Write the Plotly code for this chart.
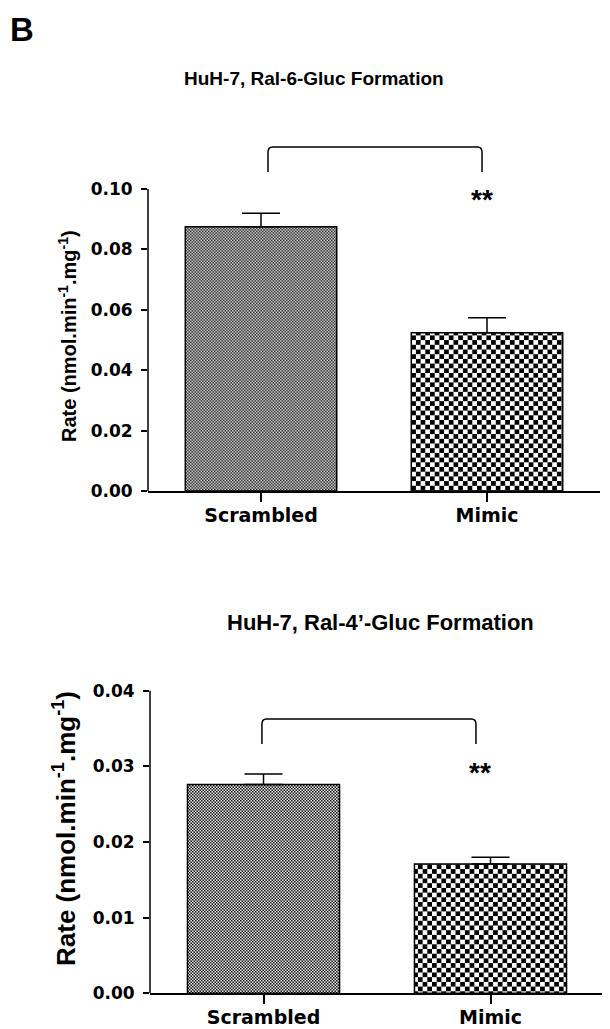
import plotly.graph_objects as go

# ----------------------------- data ---------------------------------------
categories = ["Scrambled", "Mimic"]

# top panel, Ral-6-Gluc formation
rate_6 = [0.0875, 0.0524]
sem_6 = [0.0045, 0.0050]
ticks_6 = [0.00, 0.02, 0.04, 0.06, 0.08, 0.10]

# bottom panel, Ral-4'-Gluc formation
rate_4 = [0.0276, 0.0171]
sem_4 = [0.0014, 0.0009]
ticks_4 = [0.00, 0.01, 0.02, 0.03, 0.04]

xpos = list(range(len(categories)))

TITLE_FONT = "Liberation Sans, Arial, sans-serif"
TICK_FONT = "DejaVu Sans, sans-serif"

# the page body keeps its 8px default margin, so the figure is drawn 8px in
OFF = 8
W, H = 610 - OFF, 1029 - OFF


def px(x):
    return (x - OFF) / W


def py(y):
    return 1 - (y - OFF) / H


# checkerboard fill, custom path if this plotly has it, else a built-in shape
def checker_path(cell):
    s = 2 * cell
    return f"M0,0H{cell}V{cell}H0Z M{cell},{cell}H{s}V{s}H{cell}Z"

try:
    go.bar.marker.Pattern(path="M0,0H1V1H0Z")
    use_path = True
except ValueError:
    use_path = False

if use_path:
    patterns = [dict(path=checker_path(1.5), size=3, fgcolor="black", bgcolor="white", fillmode="replace"),
                dict(path=checker_path(4.7), size=9.4, fgcolor="black", bgcolor="white", fillmode="replace")]
else:
    patterns = [dict(shape="x", size=3, solidity=0.55, fgcolor="black", bgcolor="white", fillmode="replace"),
                dict(shape="x", size=6.7, solidity=0.45, fgcolor="black", bgcolor="white", fillmode="replace")]

fig = go.Figure()

panels = [
    dict(rates=rate_6, sems=sem_6, ticks=ticks_6, xa="x", ya="y"),
    dict(rates=rate_4, sems=sem_4, ticks=ticks_4, xa="x2", ya="y2"),
]

for p in panels:
    for i, cat in enumerate(categories):
        fig.add_trace(go.Bar(
            x=[xpos[i]], y=[p["rates"][i]], width=0.67, name=cat,
            marker=dict(color="white", line=dict(color="black", width=1.5), pattern=patterns[i]),
            error_y=dict(type="data", symmetric=False, array=[p["sems"][i]], arrayminus=[0],
                         color="black", thickness=1.5, width=19),
            xaxis=p["xa"], yaxis=p["ya"], showlegend=False,
        ))

xcommon = dict(range=[-0.5, 1.5], tickvals=xpos, ticktext=categories, ticks="outside",
               ticklen=9, tickwidth=1.5, tickcolor="black", showline=True, linecolor="black",
               linewidth=1.5, showgrid=False, zeroline=False, fixedrange=True, automargin=False,
               ticklabelstandoff=-3,
               tickfont=dict(family=TICK_FONT, size=19, color="black", weight="bold"))
ycommon = dict(ticks="outside", ticklen=6, tickwidth=1.5, tickcolor="black", showline=False,
               showgrid=False, zeroline=False, ticklabelstandoff=5, automargin=False,
               tickfont=dict(family=TICK_FONT, size=17, color="black", weight="bold"))

fig.update_layout(
    width=W, height=H,
    margin=dict(l=0, r=0, t=0, b=0, autoexpand=False),
    paper_bgcolor="white", plot_bgcolor="white",
    barmode="overlay",
    xaxis=dict(domain=[px(148), px(600)], anchor="y", **xcommon),
    yaxis=dict(domain=[py(491), py(128.6)], anchor="x", range=[0, 0.12],
               tickvals=ticks_6, ticktext=[f"{v:.2f}" for v in ticks_6], **ycommon),
    xaxis2=dict(domain=[px(150), px(604)], anchor="y2", **xcommon),
    yaxis2=dict(domain=[py(993.3), py(652.9)], anchor="x2", range=[0, 0.045],
                tickvals=ticks_4, ticktext=[f"{v:.2f}" for v in ticks_4], **ycommon),
)

# y axis lines only as tall as the top tick
for p in panels:
    fig.add_shape(type="line", xref=p["xa"] + " domain", yref=p["ya"], x0=0, x1=0,
                  y0=0, y1=p["ticks"][-1], line=dict(color="black", width=1.5))

# significance brackets
brackets = [
    dict(xa="x", ya="y", x0=0.031, x1=0.978, top=0.1139, foot=0.1056, rx=0.02, ry=0.0019,
         star_x=0.98, star_y=0.0964),
    dict(xa="x2", ya="y2", x0=-0.007, x1=0.936, top=0.03626, foot=0.03296, rx=0.02, ry=0.0007,
         star_x=0.954, star_y=0.02925),
]
for b in brackets:
    path = (f"M{b['x0']},{b['foot']} L{b['x0']},{b['top'] - b['ry']} "
            f"Q{b['x0']},{b['top']} {b['x0'] + b['rx']},{b['top']} "
            f"L{b['x1'] - b['rx']},{b['top']} "
            f"Q{b['x1']},{b['top']} {b['x1']},{b['top'] - b['ry']} L{b['x1']},{b['foot']}")
    fig.add_shape(type="path", xref=b["xa"], yref=b["ya"], path=path,
                  line=dict(color="black", width=1.5))
    fig.add_annotation(xref=b["xa"], yref=b["ya"], x=b["star_x"], y=b["star_y"], text="**",
                       xanchor="center", yanchor="middle", showarrow=False,
                       font=dict(family=TITLE_FONT, size=28, color="black", weight="bold"))

# titles and labels
def label(text, x, y, size, angle=0, xanchor="center"):
    fig.add_annotation(xref="paper", yref="paper", x=px(x), y=py(y), text=text, textangle=angle,
                       xanchor=xanchor, yanchor="middle", showarrow=False,
                       font=dict(family=TITLE_FONT, size=size, color="black", weight="bold"))

ytitle = "Rate (nmol.min<sup>-1</sup>.mg<sup>-1</sup>)"
label("HuH-7, Ral-6-Gluc Formation", 314, 79, 19)
label("HuH-7, Ral-4\u2019-Gluc Formation", 380, 622, 22)
label(ytitle, 68, 336, 20, -90)
label(ytitle, 64, 829, 26, -90)
label("B", OFF, 29, 33, xanchor="left")

fig.write_html("out.html")
